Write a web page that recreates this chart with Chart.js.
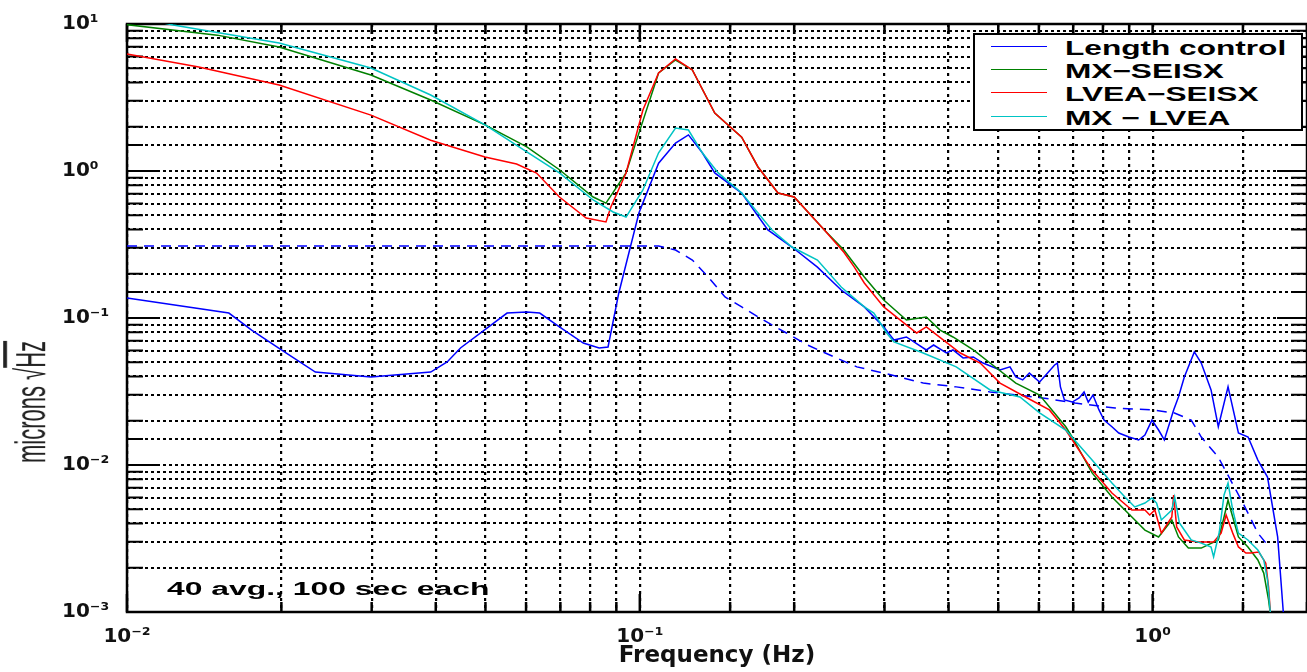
<!DOCTYPE html>
<html>
<head>
<meta charset="utf-8">
<script src="https://cdn.jsdelivr.net/npm/chart.js@4.4.1/dist/chart.umd.min.js"></script>
<style>
  body { margin: 0; background: #fff; }
  #wrap { position: relative; width: 1307px; height: 672px; overflow: hidden; }
  #c { position: absolute; left: 0; top: 0; }
  .wide { position: absolute; white-space: nowrap; transform-origin: 0 50%; }
  #legend { position: absolute; left: 973px; top: 33px; width: 326px; height: 94px;
            border: 2.5px solid #000; background: #fff; }
  .row { position: absolute; left: 0; height: 20px; width: 100%; }
  .swatch { position: absolute; left: 16px; top: 9px; width: 56px; height: 0; border-top: 1.5px solid; }
  .lbl { position: absolute; left: 90px; top: 0; line-height: 20px;
         font: bold 20px 'Liberation Sans', Arial, sans-serif; white-space: nowrap;
         transform: scaleX(1.58); transform-origin: 0 50%; }
  #note { left: 167px; top: 579px; line-height: 18px;
          font: bold 18px 'Liberation Sans', Arial, sans-serif; transform: scaleX(1.77); }
  #ytitle { position: absolute; left: 7px; top: 463px; line-height: 22px; white-space: nowrap;
            font: 22px 'Liberation Sans', Arial, sans-serif; color: #222;
            transform-origin: 0 0; transform: scaleX(1.9) rotate(-90deg); }
</style>
</head>
<body>
<div id="wrap">
  <canvas id="c" width="1307" height="672"></canvas>
  <div id="legend"></div>
  <div id="note" class="wide">40 avg., 100 sec each</div>
  <div id="ytitle">microns&nbsp;√<span style="text-decoration: overline">Hz</span></div>
</div>
<script>
// axis ticks
const xDecades = [0.01, 0.1, 1];
const xTickLabels = ['10⁻²', '10⁻¹', '10⁰'];
const yDecades = [0.001, 0.01, 0.1, 1, 10];
const yTickLabels = ['10⁻³', '10⁻²', '10⁻¹', '10⁰', '10¹'];

// Length control (solid blue)
const lengthHz = [0.01, 0.0158, 0.0175, 0.02, 0.0233, 0.0299, 0.0391, 0.0421, 0.0447, 0.0551, 0.0602, 0.0638,
  0.0697, 0.0776, 0.0833, 0.0867, 0.091, 0.0996, 0.1088, 0.1174, 0.1244, 0.1324, 0.140, 0.158, 0.1777, 0.198,
  0.222, 0.247, 0.274, 0.299, 0.313, 0.331, 0.362, 0.374, 0.396, 0.408, 0.427, 0.447, 0.467, 0.504, 0.527,
  0.541, 0.558, 0.575, 0.602, 0.624, 0.644, 0.652, 0.661, 0.673, 0.697, 0.719, 0.735, 0.749, 0.765, 0.786,
  0.804, 0.833, 0.859, 0.899, 0.939, 0.966, 0.997, 1.027, 1.054, 1.099, 1.123, 1.153, 1.206, 1.244,
  1.30, 1.343, 1.403, 1.47, 1.535, 1.604, 1.675, 1.753, 1.80];
const lengthAmp = [0.137, 0.108, 0.0828, 0.0606, 0.0429, 0.0397, 0.0429, 0.0502, 0.0625, 0.108, 0.110, 0.108,
  0.087, 0.0676, 0.0625, 0.0635, 0.148, 0.518, 1.13, 1.55, 1.76, 1.33, 0.97, 0.708, 0.397, 0.304,
  0.222, 0.155, 0.119, 0.087, 0.0708, 0.0743, 0.0606, 0.0655, 0.0578, 0.0606, 0.0535, 0.0543, 0.0494, 0.0443, 0.0465,
  0.0397, 0.0379, 0.0422, 0.0367, 0.0422, 0.0479, 0.0494, 0.034, 0.0277, 0.0268, 0.0286, 0.0314, 0.0268, 0.0299, 0.0237,
  0.0202, 0.0182, 0.0165, 0.0155, 0.0148, 0.016, 0.0202, 0.0173, 0.0148, 0.0237, 0.029, 0.0397, 0.0588, 0.0494,
  0.0324, 0.0182, 0.034, 0.0165, 0.0155, 0.0108, 0.00828, 0.00324, 0.00095];

// dashed blue, no legend entry
const dashedHz = [0.01, 0.05, 0.1088, 0.1174, 0.1266, 0.136, 0.1466, 0.158, 0.170, 0.1916, 0.2122, 0.2394, 0.265,
  0.299, 0.357, 0.414, 0.482, 0.610, 0.706, 0.845, 0.997, 1.103, 1.189, 1.244, 1.343, 1.507, 1.604, 1.675];
const dashedAmp = [0.309, 0.309, 0.309, 0.290, 0.248, 0.190, 0.139, 0.119, 0.1016, 0.0803, 0.0655, 0.0543, 0.0465,
  0.0422, 0.0361, 0.034, 0.0314, 0.0286, 0.0264, 0.0244, 0.0237, 0.0226, 0.0202, 0.0155, 0.0113, 0.00534, 0.00344, 0.00286];

// MX-SEISX (green)
const mxSeisxHz = [0.01, 0.015, 0.0198, 0.0299, 0.0391, 0.0499, 0.0602, 0.0697, 0.0811, 0.0859, 0.094, 0.0996,
  0.1088, 0.1174, 0.1266, 0.140, 0.158, 0.170, 0.186, 0.200, 0.229, 0.250, 0.274, 0.299, 0.331, 0.362, 0.385,
  0.408, 0.447, 0.482, 0.541, 0.602, 0.677, 0.697, 0.762, 0.833, 0.911, 0.966, 1.027, 1.09, 1.123, 1.174,
  1.244, 1.343, 1.378, 1.403, 1.42, 1.47, 1.534, 1.604, 1.647, 1.683, 1.698];
const mxSeisxAmp = [9.9, 8.4, 6.97, 4.5, 3.04, 2.06, 1.46, 1.02, 0.665, 0.605, 0.97, 1.81,
  4.64, 5.69, 4.87, 2.48, 1.70, 1.065, 0.708, 0.665, 0.397, 0.290, 0.190, 0.1325, 0.0969, 0.1016, 0.0828,
  0.0743, 0.0606, 0.0494, 0.0361, 0.0299, 0.0182, 0.0155, 0.00883, 0.00606, 0.00443, 0.00361, 0.00324, 0.00423, 0.00324, 0.00272,
  0.00272, 0.00309, 0.00443, 0.00578, 0.00494, 0.00324, 0.00277, 0.00226, 0.00184, 0.00121, 0.00095];

// LVEA-SEISX (red)
const lveaSeisxHz = [0.01, 0.0138, 0.0198, 0.0299, 0.0391, 0.0499, 0.0575, 0.0629, 0.0697, 0.0786, 0.0859, 0.0878,
  0.094, 0.1014, 0.1088, 0.1174, 0.1266, 0.140, 0.158, 0.170, 0.186, 0.200, 0.229, 0.250, 0.262, 0.274, 0.299,
  0.3466, 0.362, 0.391, 0.4217, 0.461, 0.504, 0.565, 0.629, 0.677, 0.762, 0.833, 0.911, 0.966, 0.987, 1.01,
  1.04, 1.09, 1.099, 1.114, 1.153, 1.225, 1.315, 1.36, 1.391, 1.433, 1.47, 1.52, 1.554, 1.611, 1.662, 1.683, 1.698];
const lveaSeisxAmp = [6.25, 5.1, 3.85, 2.4, 1.62, 1.245, 1.116, 0.969, 0.665, 0.479, 0.45, 0.569,
  0.97, 2.6, 4.64, 5.78, 4.87, 2.48, 1.70, 1.065, 0.708, 0.665, 0.397, 0.280, 0.222, 0.173, 0.119,
  0.0791, 0.087, 0.0708, 0.0578, 0.0494, 0.0361, 0.029, 0.0237, 0.0173, 0.00924, 0.00645, 0.00494, 0.00494, 0.00457, 0.00494,
  0.00344, 0.00443, 0.00625, 0.00379, 0.00309, 0.00299, 0.00299, 0.00344, 0.00457, 0.00344, 0.00277, 0.00252, 0.00252, 0.00256, 0.00215, 0.00148, 0.00095];

// MX - LVEA (cyan)
const mxLveaHz = [0.01, 0.0123, 0.0198, 0.0299, 0.0391, 0.0499, 0.0602, 0.0697, 0.0811, 0.0887, 0.094, 0.1014,
  0.1088, 0.1174, 0.1244, 0.1324, 0.1422, 0.158, 0.181, 0.198, 0.222, 0.247, 0.274, 0.286, 0.303, 0.313, 0.357,
  0.414, 0.482, 0.551, 0.602, 0.677, 0.762, 0.833, 0.883, 0.923, 0.966, 0.997, 1.018, 1.04, 1.09, 1.104, 1.128,
  1.153, 1.189, 1.244, 1.30, 1.315, 1.349, 1.378, 1.403, 1.433, 1.47, 1.534, 1.604, 1.647, 1.675, 1.698];
const mxLveaAmp = [11.5, 9.84, 7.43, 5.02, 3.29, 2.06, 1.35, 0.97, 0.635, 0.526, 0.486, 0.743,
  1.33, 1.96, 1.90, 1.33, 0.97, 0.708, 0.397, 0.304, 0.248, 0.1626, 0.119, 0.108, 0.0791, 0.0687, 0.0578,
  0.0465, 0.0324, 0.029, 0.0226, 0.0173, 0.0108, 0.00755, 0.00606, 0.00518, 0.00551, 0.00597, 0.00551, 0.00423, 0.00494, 0.00606, 0.00403,
  0.00361, 0.00309, 0.00294, 0.00277, 0.00237, 0.0035, 0.00625, 0.00755, 0.00494, 0.00344, 0.00309, 0.00264, 0.00226, 0.00165, 0.00095];

const pairs = (xs, ys) => xs.map((x, i) => ({ x: x, y: ys[i] }));

function decadeLabel(value, decades, labels) {
  for (let i = 0; i < decades.length; i++) {
    if (Math.abs(Math.log10(value) - Math.log10(decades[i])) < 1e-6) return labels[i];
  }
  return '';
}
function isDecade(v) {
  const l = Math.log10(v);
  return Math.abs(l - Math.round(l)) < 1e-6;
}

// matlab style frame with inward ticks
const axesFrame = {
  id: 'axesFrame',
  beforeDatasetsDraw(chart) {
    const { ctx, chartArea: a, scales: { x, y } } = chart;
    ctx.save();
    ctx.strokeStyle = '#000';
    ctx.lineWidth = 2.5;
    x.ticks.forEach(t => {
      const px = x.getPixelForValue(t.value);
      const len = isDecade(t.value) ? 18 : 10;
      ctx.beginPath();
      ctx.moveTo(px, a.bottom); ctx.lineTo(px, a.bottom - len);
      ctx.moveTo(px, a.top); ctx.lineTo(px, a.top + len);
      ctx.stroke();
    });
    ctx.lineWidth = 2;
    y.ticks.forEach(t => {
      const py = y.getPixelForValue(t.value);
      const len = isDecade(t.value) ? 30 : 16;
      ctx.beginPath();
      ctx.moveTo(a.left, py); ctx.lineTo(a.left + len, py);
      ctx.moveTo(a.right, py); ctx.lineTo(a.right - len, py);
      ctx.stroke();
    });
    ctx.lineWidth = 2.5;
    ctx.strokeRect(a.left, a.top, a.right - a.left, a.bottom - a.top);
    ctx.restore();
  }
};

const datasets = [
  { label: 'Length control', data: pairs(lengthHz, lengthAmp), borderColor: '#0000ff', order: 4 },
  { label: '', data: pairs(dashedHz, dashedAmp), borderColor: '#0000ff', borderDash: [10, 7], order: 5 },
  { label: 'MX−SEISX', data: pairs(mxSeisxHz, mxSeisxAmp), borderColor: '#008000', order: 3 },
  { label: 'LVEA−SEISX', data: pairs(lveaSeisxHz, lveaSeisxAmp), borderColor: '#ff0000', order: 2 },
  { label: 'MX − LVEA', data: pairs(mxLveaHz, mxLveaAmp), borderColor: '#00c4c4', order: 1 }
];
datasets.forEach(d => { d.borderWidth = 1.5; d.pointRadius = 0; d.fill = false; d.tension = 0; });

const tickFont = { family: "'DejaVu Sans', sans-serif", size: 20, weight: 'bold' };

function noPad(s) { s.paddingLeft = 0; s.paddingRight = 0; s.paddingTop = 0; s.paddingBottom = 0; }

new Chart(document.getElementById('c'), {
  type: 'line',
  data: { datasets: datasets },
  options: {
    responsive: false,
    animation: false,
    devicePixelRatio: 1,
    layout: { padding: { top: 24, right: -10, left: 62, bottom: 0 } },
    plugins: { legend: { display: false }, tooltip: { enabled: false } },
    scales: {
      x: {
        type: 'logarithmic',
        min: 0.01,
        max: 2,
        afterFit: s => { s.height = 60; noPad(s); },
        grid: { color: '#000', lineWidth: 2.2, drawTicks: false },
        border: { display: false, dash: [3, 4] },
        ticks: {
          autoSkip: false, maxRotation: 0, padding: 13, color: '#111', font: tickFont,
          callback: v => decadeLabel(v, xDecades, xTickLabels)
        },
        title: {
          display: true, text: 'Frequency (Hz)', color: '#111',
          font: { family: "'DejaVu Sans', sans-serif", size: 23, weight: 'bold' },
          padding: { top: 0, bottom: 2 }
        }
      },
      y: {
        type: 'logarithmic',
        min: 0.001,
        max: 10,
        afterFit: s => { s.width = 65; noPad(s); },
        grid: { color: '#000', lineWidth: 2, drawTicks: false },
        border: { display: false, dash: [3, 3] },
        ticks: {
          autoSkip: false, crossAlign: 'far', padding: 20, color: '#111', font: tickFont,
          callback: v => decadeLabel(v, yDecades, yTickLabels)
        }
      }
    }
  },
  plugins: [axesFrame]
});

// legend box from the datasets
const legend = document.getElementById('legend');
const rowCenters = [12, 35, 58, 82];
datasets.filter(d => d.label).forEach((d, i) => {
  const row = document.createElement('div');
  row.className = 'row';
  row.style.top = (rowCenters[i] - 10) + 'px';
  row.innerHTML = `<div class="swatch" style="border-color:${d.borderColor}"></div><div class="lbl">${d.label}</div>`;
  legend.appendChild(row);
});
</script>
</body>
</html>
